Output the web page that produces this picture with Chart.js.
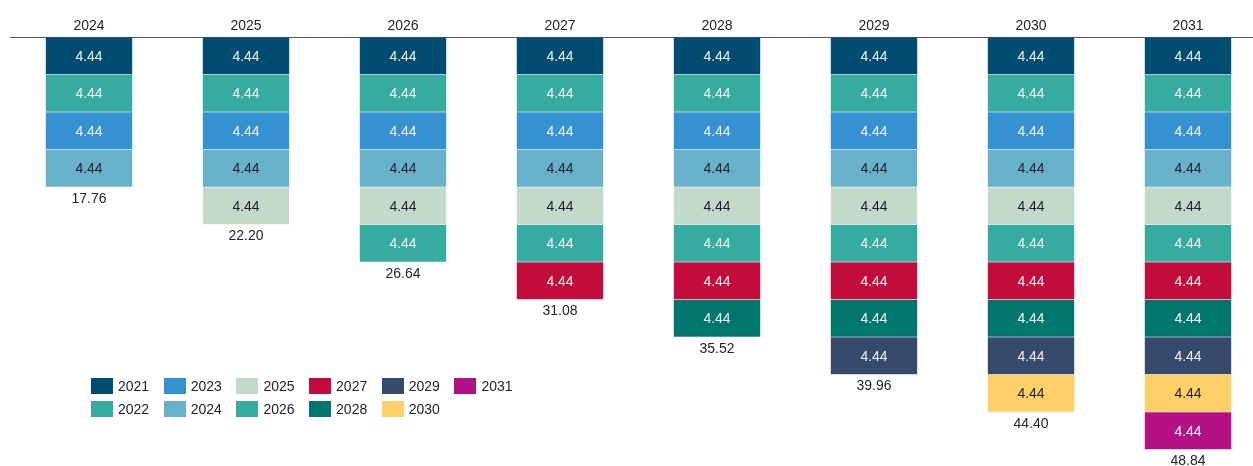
<!DOCTYPE html>
<html>
<head>
<meta charset="utf-8">
<script src="https://cdn.jsdelivr.net/npm/chart.js@4"></script>
<style>
  html, body { margin: 0; padding: 0; background: #fff; overflow: hidden; }
  #wrap { position: relative; width: 1280px; height: 466px; }
  #legend {
    position: absolute; left: 91px; top: 377px;
    display: grid; grid-template-rows: repeat(2, 23px);
    grid-auto-flow: column; grid-auto-columns: 72.7px;
    font: 14px "Liberation Sans", Arial, sans-serif; color: #22223a;
  }
  .item { display: flex; align-items: center; height: 18px; }
  .box { width: 22px; height: 16px; margin-right: 5px; flex: none; }
</style>
</head>
<body>
<div id="wrap">
  <canvas id="chart"></canvas>
  <div id="legend"></div>
</div>
<script>
// categories on the top axis
const categories = ['2024', '2025', '2026', '2027', '2028', '2029', '2030', '2031'];

// one series per year, stacked downward
const seriesNames = ['2021', '2022', '2023', '2024', '2025', '2026', '2027', '2028', '2029', '2030', '2031'];
const s2021 = [4.44, 4.44, 4.44, 4.44, 4.44, 4.44, 4.44, 4.44];
const s2022 = [4.44, 4.44, 4.44, 4.44, 4.44, 4.44, 4.44, 4.44];
const s2023 = [4.44, 4.44, 4.44, 4.44, 4.44, 4.44, 4.44, 4.44];
const s2024 = [4.44, 4.44, 4.44, 4.44, 4.44, 4.44, 4.44, 4.44];
const s2025 = [null, 4.44, 4.44, 4.44, 4.44, 4.44, 4.44, 4.44];
const s2026 = [null, null, 4.44, 4.44, 4.44, 4.44, 4.44, 4.44];
const s2027 = [null, null, null, 4.44, 4.44, 4.44, 4.44, 4.44];
const s2028 = [null, null, null, null, 4.44, 4.44, 4.44, 4.44];
const s2029 = [null, null, null, null, null, 4.44, 4.44, 4.44];
const s2030 = [null, null, null, null, null, null, 4.44, 4.44];
const s2031 = [null, null, null, null, null, null, null, 4.44];
const seriesValues = [s2021, s2022, s2023, s2024, s2025, s2026, s2027, s2028, s2029, s2030, s2031];

const colors = ['#014d72', '#36ab9f', '#3591d0', '#67b1cb', '#c3dacb', '#36ab9f',
                '#c20c3c', '#00766e', '#364b6b', '#ffcf68', '#b51187'];
const labelColors = ['#f2f2f2', '#f2f2f2', '#f2f2f2', '#1e1e30', '#1e1e30', '#f2f2f2',
                     '#f2f2f2', '#f2f2f2', '#f2f2f2', '#1e1e30', '#f2f2f2'];

Chart.defaults.font.family = '"Liberation Sans", Arial, sans-serif';
Chart.defaults.font.size = 14;

// slightly lighter edge colour for each segment
function lighten(hex, t) {
  const n = parseInt(hex.slice(1), 16);
  const c = [n >> 16, (n >> 8) & 255, n & 255].map(v => Math.round(v + (255 - v) * t));
  return 'rgb(' + c.join(',') + ')';
}

// writes the value in each segment and the total under each bar
const valueLabels = {
  id: 'valueLabels',
  afterDatasetsDraw(chart) {
    const ctx = chart.ctx;
    ctx.save();
    ctx.font = '14px "Liberation Sans", Arial, sans-serif';
    ctx.textAlign = 'center';
    ctx.textBaseline = 'middle';
    chart.data.datasets.forEach((ds, i) => {
      chart.getDatasetMeta(i).data.forEach((bar, j) => {
        if (ds.data[j] == null) return;
        ctx.fillStyle = labelColors[i];
        ctx.fillText(ds.data[j].toFixed(2), bar.x, (bar.y + bar.base) / 2 + 1);
      });
    });
    const y = chart.scales.y;
    const x = chart.scales.x;
    ctx.fillStyle = '#22223a';
    categories.forEach((c, j) => {
      let total = 0;
      seriesValues.forEach(s => { if (s[j] != null) total += s[j]; });
      ctx.fillText(total.toFixed(2), x.getPixelForValue(j), y.getPixelForValue(total) + 12);
    });
    ctx.restore();
  }
};

const chart = new Chart(document.getElementById('chart'), {
  type: 'bar',
  data: {
    labels: categories,
    datasets: seriesNames.map((name, i) => ({
      label: name,
      data: seriesValues[i],
      backgroundColor: colors[i],
      borderColor: lighten(colors[i], 0.15),
      borderWidth: 0.5,
      borderSkipped: false,
      categoryPercentage: 1,
      barPercentage: 0.554
    }))
  },
  options: {
    responsive: true,
    maintainAspectRatio: false,
    animation: false,
    layout: { padding: { left: 10.5, right: 13.5, top: 0, bottom: 6.7 } },
    plugins: { legend: { display: false }, tooltip: { enabled: false } },
    scales: {
      x: {
        position: 'top',
        stacked: true,
        grid: { display: false, drawTicks: false },
        border: { display: true, color: '#555', width: 1 },
        ticks: { color: '#22223a', padding: 2, font: { size: 14 } },
        afterFit: s => { s.height = 37; }
      },
      y: {
        stacked: true,
        reverse: true,
        min: 0,
        max: 50,
        display: false
      }
    }
  },
  plugins: [valueLabels]
});

// legend laid out in two rows, filled column by column
const legend = document.getElementById('legend');
seriesNames.forEach((name, i) => {
  const item = document.createElement('div');
  item.className = 'item';
  item.innerHTML = '<span class="box" style="background:' + colors[i] + '"></span>' + name;
  legend.appendChild(item);
});
</script>
</body>
</html>
